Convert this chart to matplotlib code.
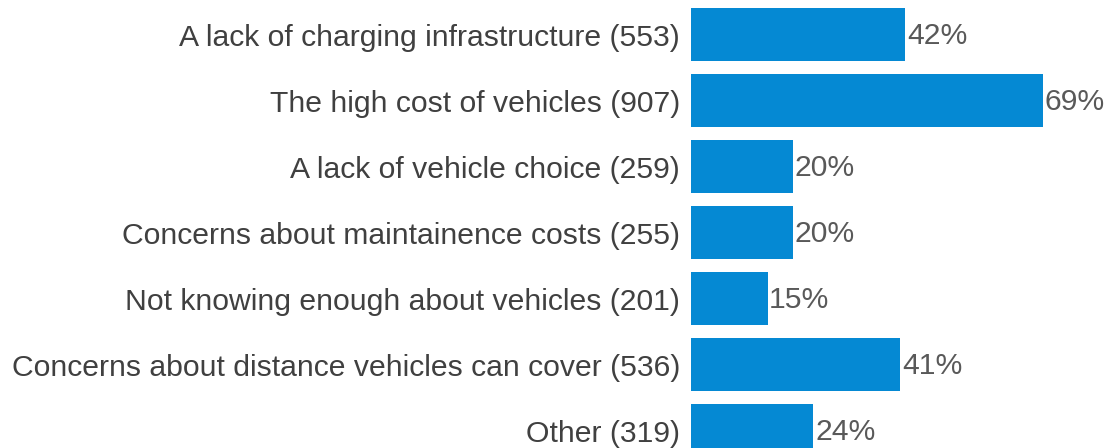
import matplotlib.pyplot as plt

plt.rcParams['font.family'] = ['Liberation Sans', 'DejaVu Sans']

# reasons and respondent counts
reasons = [
    "A lack of charging infrastructure",
    "The high cost of vehicles",
    "A lack of vehicle choice",
    "Concerns about maintainence costs",
    "Not knowing enough about vehicles",
    "Concerns about distance vehicles can cover",
    "Other",
]
counts = [553, 907, 259, 255, 201, 536, 319]
percent = [42, 69, 20, 20, 15, 41, 24]

bar_color = '#0589D3'
font_size = 21.7

fig = plt.figure(figsize=(11.08, 4.48), dpi=100)
ax = fig.add_axes([691 / 1108, 0, 1 - 691 / 1108, 1])

y = list(range(len(reasons)))
ax.barh(y, percent, height=0.8, color=bar_color)

for i, p in enumerate(percent):
    ax.text(p + 0.3, i + 0.02, f"{p}%", va='center', ha='left',
            fontsize=font_size, color='#595959')

ax.set_yticks(y)
ax.set_yticklabels([f"{r} ({c})" for r, c in zip(reasons, counts)],
                   fontsize=font_size, color='#404040')
ax.tick_params(axis='y', length=0, pad=8)
ax.set_xticks([])

ax.set_xlim(0, 81.7)
ax.set_ylim(6.265, -0.523)
for s in ax.spines.values():
    s.set_visible(False)

plt.savefig('out.png', dpi=100)
